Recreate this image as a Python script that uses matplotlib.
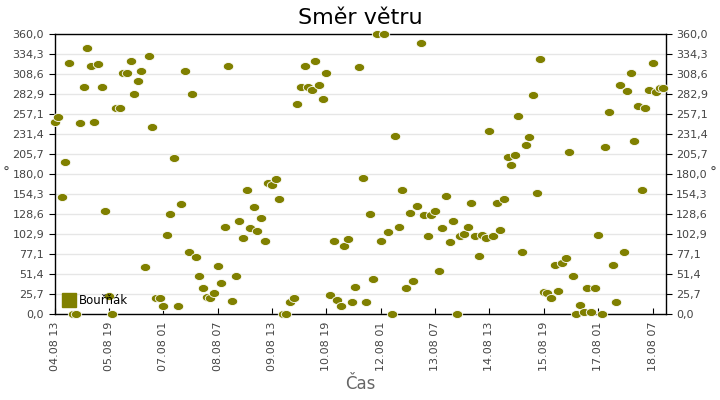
import datetime as dt
import matplotlib
matplotlib.use("Agg")
import matplotlib.pyplot as plt
import matplotlib.dates as mdates
from matplotlib.path import Path
from matplotlib.transforms import Affine2D
from matplotlib.lines import Line2D
import numpy as np

# mereni smeru vetru po 2 hodinach od 04.08 13:00
zacatek = dt.datetime(2015, 8, 4, 13, 0)
krok_hodin = 2
smer = [247, 254, 151, 196, 323, 0, 0, 246, 293, 342,
        320, 248, 322, 293, 133, 24, 0, 265, 265, 310,
        310, 326, 283, 300, 313, 61, 332, 241, 21, 21,
        11, 102, 129, 201, 11, 142, 313, 80, 283, 74,
        50, 34, 23, 21, 27, 62, 40, 113, 320, 17,
        50, 120, 98, 160, 111, 138, 107, 124, 95, 169,
        167, 174, 148, 0, 0, 16, 21, 270, 293, 320,
        292, 288, 326, 295, 277, 310, 25, 95, 18, 11,
        88, 97, 16, 35, 318, 175, 16, 129, 45, 360,
        95, 360, 106, 0, 230, 112, 160, 34, 130, 43,
        140, 349, 128, 101, 128, 133, 56, 111, 152, 93,
        120, 0, 101, 103, 113, 143, 101, 75, 102, 98,
        236, 101, 143, 108, 149, 202, 192, 205, 255, 80,
        218, 228, 282, 156, 328, 29, 27, 21, 63, 30,
        66, 72, 209, 50, 0, 12, 3, 34, 3, 34,
        102, 0, 215, 260, 63, 16, 295, 80, 287, 310,
        223, 268, 160, 265, 288, 323, 286, 291, 291]

casy = [zacatek + dt.timedelta(hours=krok_hodin * i) for i in range(len(smer))]

# popisky osy x po 30 hodinach
popisky_x = [zacatek + dt.timedelta(hours=30 * k) for k in range(12)]
popisky_y = np.linspace(0, 360, 15)

olivova = "#808000"
seda = "#444444"

fig = plt.figure(figsize=(7.2, 4.0), dpi=100)
ax = fig.add_axes([0.0757, 0.2138, 0.849, 0.700])

elipsa = Path.unit_circle().transformed(Affine2D().scale(1.3, 1.0))
ax.plot(casy, smer, linestyle="none", marker=elipsa, markersize=7.5,
        markerfacecolor=olivova, markeredgecolor="white", markeredgewidth=0.6,
        clip_on=False, zorder=3)

ax.set_xlim(zacatek, zacatek + dt.timedelta(hours=337.3))
ax.set_ylim(0, 360)
ax.set_yticks(popisky_y)
ax.set_yticklabels([f"{v:.1f}".replace(".", ",") for v in popisky_y])
ax.set_xticks(popisky_x)
ax.xaxis.set_major_formatter(mdates.DateFormatter("%d.%m %H"))
plt.setp(ax.get_xticklabels(), rotation=90)

ax.tick_params(axis="y", which="both", left=True, right=True, labelleft=True,
               labelright=True, direction="out", length=4, labelsize=8,
               labelcolor=seda, color="black")
ax.tick_params(axis="x", direction="in", length=4, labelsize=8,
               labelcolor=seda, pad=5)
ax.grid(axis="y", color="#e6e6e6", linewidth=1)
ax.set_axisbelow(True)
for s in ax.spines.values():
    s.set_color("black")
    s.set_linewidth(1)

fig.text(0.5, 0.955, "Směr větru", ha="center", va="center", fontsize=16)
fig.text(0.5, 0.04, "Čas", ha="center", va="center", fontsize=12, color="#666666")
fig.text(0.004, 0.567, "°", ha="left", va="center", fontsize=10, color=seda)
fig.text(0.985, 0.567, "°", ha="left", va="center", fontsize=10, color=seda)

znacka = Line2D([], [], linestyle="none", marker="s", markersize=10,
                markerfacecolor=olivova, markeredgecolor=olivova)
ax.legend([znacka], ["Bouřňák"], loc="lower left", frameon=False,
          fontsize=8.5, handletextpad=0.3, borderaxespad=0.2,
          handlelength=1.2, bbox_to_anchor=(0.0, 0.0))

fig.savefig("out.png", dpi=100)
